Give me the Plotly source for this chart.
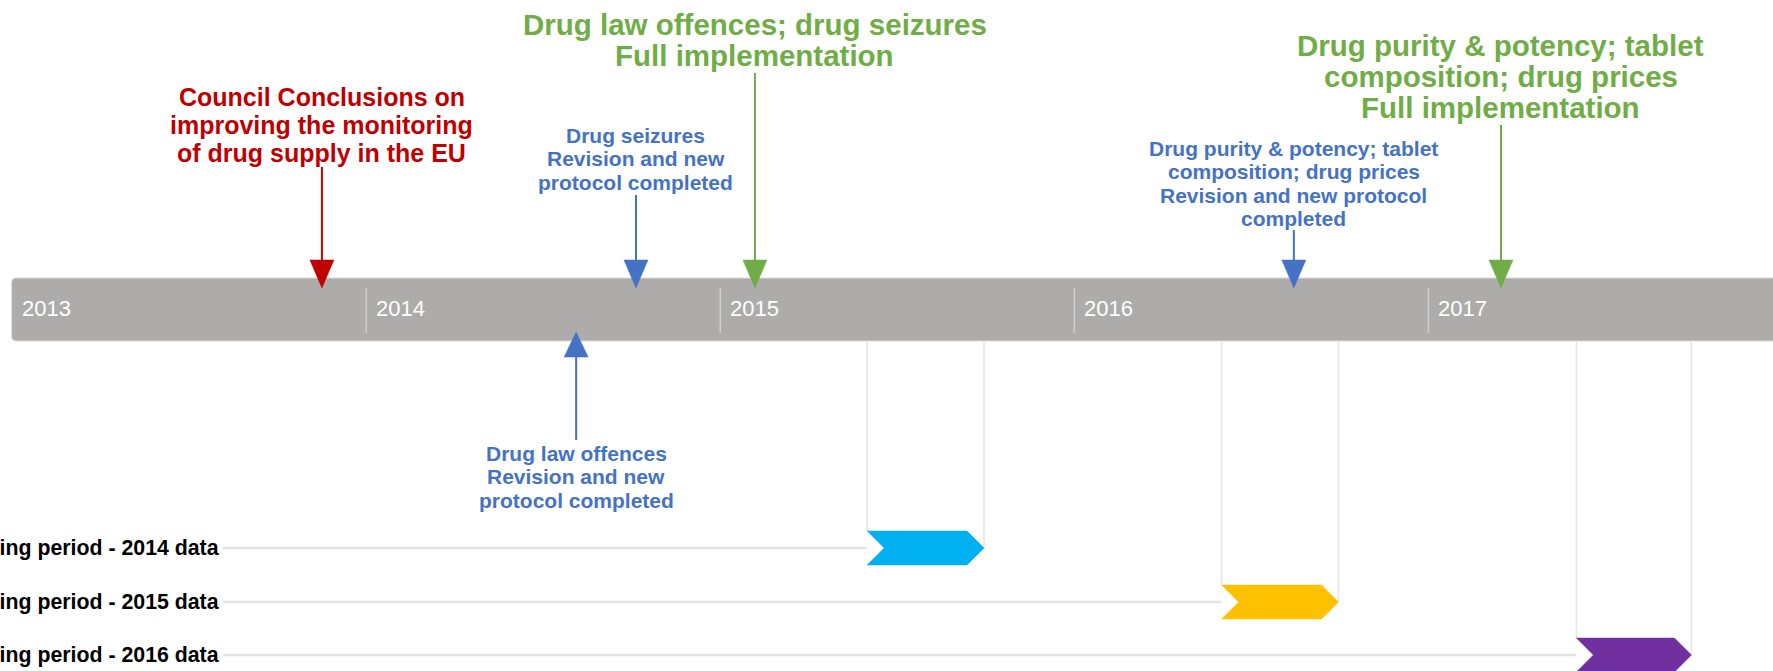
import plotly.graph_objects as go

# ---------------- data ----------------
years = [2013, 2014, 2015, 2016, 2017]

event_dates = [2013.875, 2014.593, 2014.762, 2015.098, 2016.62, 2017.205]
event_lines = [
    ["Council Conclusions on", "improving the monitoring", "of drug supply in the EU"],
    ["Drug law offences", "Revision and new", "protocol completed"],
    ["Drug seizures", "Revision and new", "protocol completed"],
    ["Drug law offences; drug seizures", "Full implementation"],
    ["Drug purity & potency; tablet", "composition; drug prices", "Revision and new protocol", "completed"],
    ["Drug purity & potency; tablet", "composition; drug prices", "Full implementation"],
]
event_kind = ["council", "revision", "revision", "full", "revision", "full"]
event_side = ["above", "below", "above", "above", "above", "above"]

period_labels = ["Reporting period - 2014 data", "Reporting period - 2015 data", "Reporting period - 2016 data"]
period_start = [2015.415, 2016.416, 2017.418]
period_end = [2015.745, 2016.746, 2017.743]
period_colors = ["#00B0F0", "#FFC000", "#7030A0"]

# ---------------- styles / layout ----------------
W, H = 1773, 671
X0 = 2012.9658
PPY = 354.07  # pixels per year
XR = [X0, X0 + W / PPY]


def dx(px):
    return px / PPY


kind_style = {
    "council": dict(color="#C00000", size=25, spacing=28),
    "revision": dict(color="#4472C4", size=21, spacing=23.5),
    "full": dict(color="#70AD47", size=29.5, spacing=31),
}
# text block placement for each event (top line centre y, arrow line start y)
text_top = [97, 453, 135, 24, 148, 45]
line_start = [167, 440, 195, 73, 230, 125]

BAR_TOP, BAR_BOT = 278, 341
TRI_H, TRI_W = 28, 24
FONT = "Liberation Sans, Arial, sans-serif"

fig = go.Figure()
shapes = []
annotations = []

# timeline bar (rounded left end)
bx0 = years[0] - dx(0.5)
bx1 = XR[1] + 1
rx = dx(5)
shapes.append(dict(
    type="path", xref="x", yref="y",
    path=(f"M {bx0+rx},{BAR_TOP} L {bx1},{BAR_TOP} L {bx1},{BAR_BOT} L {bx0+rx},{BAR_BOT} "
          f"Q {bx0},{BAR_BOT} {bx0},{BAR_BOT-5} L {bx0},{BAR_TOP+5} Q {bx0},{BAR_TOP} {bx0+rx},{BAR_TOP} Z"),
    fillcolor="#ADACAA", line=dict(color="#DADADA", width=1), layer="below",
))

# year dividers and labels
for i, y in enumerate(years):
    if i > 0:
        shapes.append(dict(type="line", xref="x", yref="y", x0=y, x1=y, y0=288, y1=333,
                           line=dict(color="#CFCECD", width=1.5)))
    annotations.append(dict(x=y, y=308, xref="x", yref="y", text=str(y), showarrow=False,
                            xanchor="left", yanchor="middle", xshift=8,
                            font=dict(family=FONT, size=22, color="white")))

# events
for i, x in enumerate(event_dates):
    st = kind_style[event_kind[i]]
    col = st["color"]
    if event_side[i] == "above":
        tip = BAR_TOP + 10
        base = tip - TRI_H
    else:
        tip = BAR_BOT - 9
        base = tip + 25
    # stem
    shapes.append(dict(type="line", xref="x", yref="y", x0=x, x1=x, y0=line_start[i], y1=base,
                       line=dict(color=col, width=2)))
    # head
    hw = dx(TRI_W / 2)
    shapes.append(dict(type="path", xref="x", yref="y",
                       path=f"M {x-hw},{base} L {x+hw},{base} L {x},{tip} Z",
                       fillcolor=col, line=dict(color=col, width=0.5)))
    # text
    for j, t in enumerate(event_lines[i]):
        annotations.append(dict(x=x, y=text_top[i] + j * st["spacing"], xref="x", yref="y",
                                text=f"<b>{t}</b>", showarrow=False, xanchor="center",
                                yanchor="middle",
                                font=dict(family=FONT, size=st["size"], color=col)))

# reporting periods
row_y = [548, 602, 655]
half = 17
d = dx(17)
label_end_x = XR[0] + dx(223)
for i, lab in enumerate(period_labels):
    yc = row_y[i]
    s, e = period_start[i], period_end[i]
    annotations.append(dict(x=221 / W, y=yc, xref="paper", yref="y", text=f"<b>{lab}</b>",
                            showarrow=False, xanchor="right", yanchor="middle",
                            font=dict(family=FONT, size=21.3, color="black")))
    shapes.append(dict(type="line", xref="x", yref="y", x0=label_end_x, x1=s, y0=yc, y1=yc,
                       line=dict(color="#E4E4E4", width=2.5), layer="below"))
    shapes.append(dict(type="line", xref="x", yref="y", x0=s, x1=s, y0=BAR_BOT, y1=yc - half,
                       line=dict(color="#E4E4E4", width=1.5), layer="below"))
    shapes.append(dict(type="line", xref="x", yref="y", x0=e, x1=e, y0=BAR_BOT, y1=yc,
                       line=dict(color="#E4E4E4", width=1.5), layer="below"))
    shapes.append(dict(type="path", xref="x", yref="y",
                       path=(f"M {s},{yc-half} L {e-d},{yc-half} L {e},{yc} L {e-d},{yc+half} "
                             f"L {s},{yc+half} L {s+d},{yc} Z"),
                       fillcolor=period_colors[i], line=dict(color=period_colors[i], width=0.5)))

fig.update_layout(
    width=W, height=H,
    margin=dict(l=0, r=0, t=0, b=0),
    paper_bgcolor="white", plot_bgcolor="white",
    xaxis=dict(range=XR, visible=False, fixedrange=True),
    yaxis=dict(range=[H, 0], visible=False, fixedrange=True),
    shapes=shapes, annotations=annotations, showlegend=False,
)

fig.write_html("out.html", config={"displayModeBar": False},
               post_script="document.body.style.margin='0px';document.body.style.overflow='hidden';")
